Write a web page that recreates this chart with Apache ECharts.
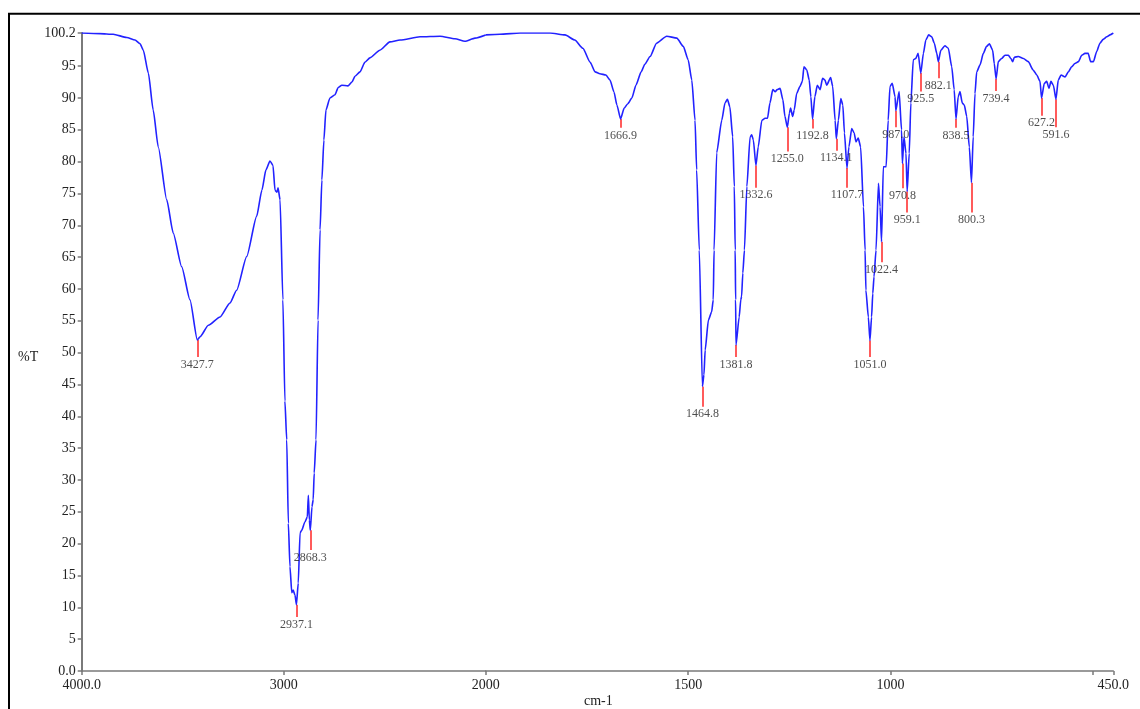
<!DOCTYPE html>
<html>
<head>
<meta charset="utf-8">
<script src="https://cdn.jsdelivr.net/npm/echarts@6/dist/echarts.min.js"></script>
<style>
html,body{margin:0;padding:0;background:#fff;}
#chart{width:1140px;height:709px;}
</style>
</head>
<body>
<div id="chart"></div>
<script>
// Spectrum: wavenumber (cm-1) and transmittance (%T)
const wavenumbers = [
4000,3909,3844,3777,3736,3711,3695,3670,3646,3621,3579,3547,3505,3464,3427.7,3414,3373,3315,3266,3233,3183,3134,3108,3088,3068,3053,3043,3033,3028,3018,3004,2994,2985,2977,2969,2960,2953,2944,2937.1,2928,2919,2911,2895,2883,2878,2873,2868.3,2860,2854,2849,2840,2830,2820,2811,2801,2791,2771,2746,2731,2712,2682,2662,2647,2622,2598,2573,2524,2474,2424,2325,2226,2152,2103,2053,2000,
1965,1915,1841,1804,1780,1760,1742,1730,1718,1703,1693,1683,1676,1666.9,1658,1649,1639,1629,1616,1607,1594,1578,1553,1528,1512,1500,1491,1483,1479,1472.5,1464.8,1461,1458,1450,1442,1438,1436,1429.5,1417,1409,1403,1397,1390,1386,1383.8,1382.8,1381.8,1374,1370,1368,1365,1361,1355,1347,1343,1339,1332.6,1327,1318,1310,1304,1298,1291,1285,1280,1273,1266,1261,1255.0,1250,1247,1242,1238,1232,1224,1218,1214,1207,1201,1197,1192.8,1187,1181,1174,1168,1162,1158,1148,1143,1137,1134.1,1129,1123,1118,1114,1107.7,1103,1096,1090,1085.5,1080,1074,1067,1063,1061,1055,1051.0,1047,1044,1041,1036,1030,1026,1022.4,1018,1011,1006,1001.5,996,989,987.0,979,973,970.8,967,962,959.1,954,950,944,938,932,925.5,919,913,906,898.5,892,886,882.1,876,866,857.5,849,843,838.5,833,828.6,823,818,812,805.6,800.3,796,791.6,787.4,779,771,763,756,748,744,739.4,734,726,717.5,709,703,698.5,694.5,684.6,672,660,648,639,631,627.2,620.4,614.5,608.8,604,598,591.6,586,579,569,561,553,545,536,528,520,512,506,499,491,483,475,466,458,450
];
const transmittance = [
100.2,100.1,100.0,99.5,99.1,98.5,97.5,93.9,88.1,82.3,74.0,68.8,63.5,58.3,52.0,52.5,54.3,55.6,57.8,59.8,65.1,71.4,75.5,78.7,80.1,79.4,75.5,75.2,75.9,74.0,58.3,42.4,36.3,23.2,16.4,12.3,12.7,11.9,10.4,13.8,21.7,22.1,23.4,24.2,27.6,23.7,22.1,25.8,26.9,31.1,36.3,55.1,69.3,77.1,83.4,88.1,90.0,90.5,91.6,92.0,91.9,92.5,93.4,94.1,95.6,96.3,97.5,98.8,99.1,99.6,99.7,99.3,98.9,99.4,99.9,
100.0,100.2,100.2,99.9,99.1,97.8,95.6,94.1,93.8,93.6,92.8,90.9,88.9,86.7,88.4,89.1,90.0,92.0,94.1,95.3,96.5,98.6,99.7,99.4,98.1,96.0,92.8,86.5,78.7,66.1,44.7,46.5,50.4,55.1,56.4,58.3,66.1,81.4,86.5,89.2,89.8,88.6,83.9,76.1,66.1,58.3,51.2,55.6,58.3,58.8,62.5,66.1,76.1,83.9,84.2,83.4,79.4,82.3,86.5,86.8,86.8,89.2,91.3,91.0,91.3,91.5,89.7,87.1,85.4,87.6,88.4,87.1,88.1,90.7,91.8,92.6,94.9,94.4,92.8,90.2,86.7,90.2,92.0,91.3,93.1,92.8,92.0,93.2,91.8,86.5,83.6,86.5,89.9,88.9,84.5,79.0,82.3,85.2,84.5,83.1,83.7,82.3,72.9,66.1,59.8,55.6,51.9,55.6,59.3,61.9,66.1,76.6,72.9,67.4,79.2,79.2,86.5,91.8,92.3,90.2,88.0,91.0,85.0,79.7,83.9,81.3,75.3,81.3,89.2,96.0,96.2,97.0,93.9,97.0,99.1,99.9,99.6,98.6,97.0,95.7,97.5,98.2,97.8,94.9,91.3,86.7,90.2,91.0,89.2,88.9,87.1,82.3,76.7,83.9,90.7,94.1,95.2,97.0,98.1,98.5,97.5,95.4,93.0,95.7,96.2,96.7,96.7,96.2,95.7,96.4,96.5,96.2,95.7,94.4,93.6,92.6,90.0,92.3,92.6,91.5,92.6,92.0,89.8,92.8,93.6,93.3,94.1,94.9,95.4,95.7,96.7,97.0,97.0,95.7,95.7,97.3,98.6,99.2,99.6,99.9,100.2
];

// Peak picks: wavenumber, %T at the band, %T where the marker ends
const peakWn  = [3427.7,2937.1,2868.3,1666.9,1464.8,1381.8,1332.6,1255.0,1192.8,1134.1,1107.7,1051.0,1022.4,987.0,970.8,959.1,925.5,882.1,838.5,800.3,739.4,627.2,591.6];
const peakT   = [52.0,10.4,22.1,86.7,44.7,51.2,79.4,85.4,86.7,83.6,79.0,51.9,67.4,88.0,79.7,75.3,93.9,95.7,86.7,76.7,93.0,90.0,89.8];
const peakEnd = [49.3,8.5,19.0,85.3,41.5,49.3,75.9,81.6,85.2,81.7,75.9,49.3,64.2,85.4,75.8,72.0,91.0,93.1,85.3,72.0,91.1,87.2,85.4];

// Tick labels
const yTicks = [0,5,10,15,20,25,30,35,40,45,50,55,60,65,70,75,80,85,90,95,100.2];
const xTicksHigh = [4000,3000];
const xTicksLow = [2000,1500,1000,500,450];

const SPLIT = 2000;
const serif = "'Liberation Serif','Times New Roman',serif";

const highData = [], lowData = [];
wavenumbers.forEach((w,i) => {
  if (w >= SPLIT) highData.push([w, transmittance[i]]);
  if (w <= SPLIT) lowData.push([w, transmittance[i]]);
});

function peakSeries(gi, sel) {
  const idx = peakWn.map((w,i)=>i).filter(i => sel(peakWn[i]));
  return [
    {
      type: 'lines', coordinateSystem: 'cartesian2d', xAxisIndex: gi, yAxisIndex: gi,
      z: 2, silent: true,
      lineStyle: {color: '#ff5b5b', width: 2, opacity: 1},
      data: idx.map(i => ({coords: [[peakWn[i], peakT[i]], [peakWn[i], peakEnd[i]]]}))
    },
    {
      type: 'scatter', xAxisIndex: gi, yAxisIndex: gi, z: 4, silent: true,
      symbolSize: 1, itemStyle: {color: 'rgba(0,0,0,0)'},
      label: {show: true, position: 'bottom', distance: 1,
        formatter: p => p.value[0].toFixed(1),
        fontFamily: serif, fontSize: 12, color: '#222'},
      data: idx.map(i => [peakWn[i], peakEnd[i]])
    }
  ];
}

const lineStyle = {color: '#2222ff', width: 1.6};
function curve(gi, data) {
  return {type: 'line', xAxisIndex: gi, yAxisIndex: gi, data: data, showSymbol: false,
    symbol: 'none', smooth: 0.2, smoothMonotone: 'x', z: 3, lineStyle: lineStyle, silent: true};
}

const axisGray = '#7a7a7a';
const chart = echarts.init(document.getElementById('chart'), null, {renderer: 'canvas'});
const xLabelFmt = v => (v === 4000 || v === 450) ? v.toFixed(1) : (v === 500 ? '' : String(v));
const option = {
  animation: false,
  backgroundColor: '#fff',
  grid: [
    {left: 81.7, top: 33, width: 404, height: 638, outerBoundsMode: 'none', containLabel: false},
    {left: 485.7, top: 33, width: 627.6, height: 638, outerBoundsMode: 'none', containLabel: false}
  ],
  xAxis: [
    {type: 'value', gridIndex: 0, min: 2000, max: 4000, inverse: true,
     splitLine: {show: false},
     axisLine: {show: true, onZero: false, lineStyle: {color: axisGray, width: 1.5}},
     axisTick: {show: true, length: 4, lineStyle: {color: axisGray, width: 1.5}, customValues: xTicksHigh},
     axisLabel: {customValues: xTicksHigh, formatter: xLabelFmt, fontFamily: serif, fontSize: 14, color: '#222', margin: 7}},
    {type: 'value', gridIndex: 1, min: 450, max: 2000, inverse: true,
     splitLine: {show: false},
     axisLine: {show: true, onZero: false, lineStyle: {color: axisGray, width: 1.5}},
     axisTick: {show: true, length: 4, lineStyle: {color: axisGray, width: 1.5}, customValues: xTicksLow},
     axisLabel: {customValues: xTicksLow, formatter: xLabelFmt, fontFamily: serif, fontSize: 14, color: '#222', margin: 7}}
  ],
  yAxis: [
    {type: 'value', gridIndex: 0, min: 0, max: 100.2,
     splitLine: {show: false},
     axisLine: {show: true, onZero: false, lineStyle: {color: axisGray, width: 2}},
     axisTick: {show: true, length: 4, lineStyle: {color: axisGray, width: 1.5}, customValues: yTicks},
     axisLabel: {customValues: yTicks, formatter: v => (v === 0 ? '0.0' : (v === 100.2 ? '100.2' : String(v))),
       fontFamily: serif, fontSize: 14, color: '#222', margin: 6}},
    {type: 'value', gridIndex: 1, min: 0, max: 100.2, show: false, splitLine: {show: false}}
  ],
  graphic: [
    {type: 'rect', shape: {x: 9, y: 13.7, width: 1200, height: 800},
     style: {fill: 'none', stroke: '#000', lineWidth: 2}, silent: true, z: 10},
    {type: 'text', left: 18, top: 350, style: {text: '%T', font: '14px ' + serif, fill: '#222'}},
    {type: 'text', left: 584, top: 694, style: {text: 'cm-1', font: '14px ' + serif, fill: '#222'}}
  ],
  series: [
    curve(0, highData),
    curve(1, lowData),
    ...peakSeries(0, w => w >= SPLIT),
    ...peakSeries(1, w => w < SPLIT)
  ]
};
chart.setOption(option);
</script>
</body>
</html>
